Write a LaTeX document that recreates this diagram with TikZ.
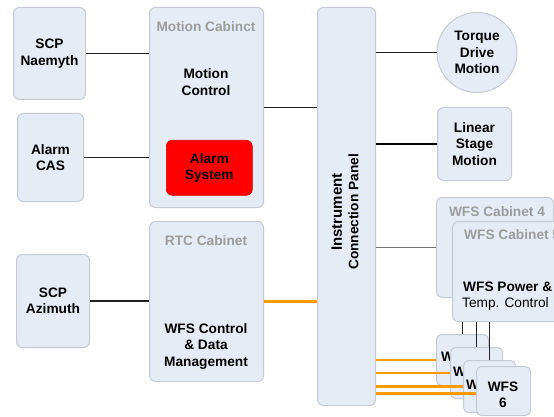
\documentclass[tikz,border=0pt]{standalone}
\usepackage{fontspec}
\setmainfont{Liberation Sans}
\definecolor{boxfill}{HTML}{E6ECF6}
\definecolor{boxedge}{HTML}{C6CBD3}
\definecolor{titlegray}{HTML}{9C9C9C}
\definecolor{alarmred}{HTML}{FF0000}
\definecolor{wireorange}{HTML}{FF9A00}
\definecolor{wiredark}{HTML}{222222}
\tikzset{
  unit/.style={draw=boxedge, fill=boxfill, line width=1pt, rounded corners=6pt,
    inner sep=0pt, anchor=north west, align=center,
    font=\fontsize{13.7}{16.5}\selectfont\bfseries},
  small/.style={unit, rounded corners=5pt},
  lbl/.style={inner sep=0pt, align=center, font=\fontsize{13.7}{16.5}\selectfont\bfseries},
  ttl/.style={lbl, text=titlegray},
  wire/.style={draw=wiredark, line width=1.1pt},
  heavywire/.style={draw=black, line width=2pt},
  greywire/.style={draw=black!55, line width=1.1pt},
  datawire/.style={draw=wireorange, line width=2.3pt},
}
\begin{document}
\begin{tikzpicture}[x=1pt, y=-1pt]
\clip (0,0) rectangle (554,417);
\fill[white] (0,0) rectangle (554,417);

% left-hand units
\node[unit, minimum width=72pt, minimum height=92pt] (naemyth) at (13,7) {SCP\\Naemyth};
\node[unit, minimum width=66pt, minimum height=88pt] (cas) at (17,113) {Alarm\\CAS};
\node[unit, minimum width=73pt, minimum height=93pt] (azimuth) at (16,254) {SCP\\Azimuth};

% motion cabinet
\node[unit, minimum width=114pt, minimum height=200pt] (motioncab) at (149,7) {};
\node[ttl] at (206,27) {Motion Cabinct};
\node[lbl] at (206,82) {Motion\\Control};
\node[unit, fill=alarmred, draw=alarmred!85!black, line width=0.6pt,
  minimum width=86pt, minimum height=55pt] (alarm) at (166,140) {Alarm\\System};

% RTC cabinet
\node[unit, minimum width=114pt, minimum height=160pt] (rtc) at (149,221) {};
\node[ttl] at (206,241) {RTC Cabinet};
\node[lbl] at (206,346) {WFS Control\\\& Data\\Management};

% instrument connection panel
\node[unit, minimum width=58pt, minimum height=398pt] (panel) at (317,7) {};
\node[lbl, rotate=90] at (345,212)
  {{\fontsize{15}{16.5}\selectfont Instrument}\\Connection Panel};

% motion hardware
\node[circle, draw=boxedge, fill=boxfill, line width=1pt, minimum size=80pt,
  inner sep=0pt, align=center, font=\fontsize{13.7}{16.5}\selectfont\bfseries]
  (torque) at (477,52.5) {Torque\\Drive\\Motion};
\node[unit, minimum width=74pt, minimum height=73pt] (linear) at (437,107) {Linear\\Stage\\Motion};

% WFS cabinets
\node[unit, minimum width=117pt, minimum height=100pt] (cabfour) at (436,197) {};
\node[ttl] at (497,212) {WFS Cabinet 4};
\node[unit, minimum width=116pt, minimum height=100pt] (cabfive) at (452,221) {};
\node[ttl, anchor=west] at (464,235) {WFS Cabinet 5};
\node[lbl, anchor=west] at (463,287) {WFS Power \&};
\node[lbl, anchor=west, font=\fontsize{13.7}{16.5}\selectfont] at (462,304) {Temp. Control};

% wavefront sensor units, stacked
\node[small, minimum width=52pt, minimum height=51pt] (wa) at (436,334) {};
\node[lbl, anchor=west] at (441,357) {WFS};
\node[small, minimum width=52pt, minimum height=51pt] (wb) at (450,347) {};
\node[lbl, anchor=west] at (453,372) {WFS};
\node[small, minimum width=52pt, minimum height=52pt] (wc) at (463,360) {};
\node[lbl, anchor=west] at (466,385) {WFS};
\node[small, minimum width=54pt, minimum height=49pt] (wd) at (476,366) {};
\node[lbl] at (503,395) {WFS\\6};

% connectors
\draw[wire] (naemyth.east) -- (motioncab.west |- naemyth.east);
\draw[wire] (cas.east) -- (motioncab.west |- cas.east);
\draw[wire] (azimuth.east) -- (rtc.west |- azimuth.east);
\draw[wire] (motioncab.east) -- (panel.west |- motioncab.east);
\draw[wire] (panel.east |- torque.west) -- (torque.west);
\draw[heavywire] (panel.east |- linear.west) -- (linear.west);
\draw[greywire] (panel.east |- cabfour.west) -- (cabfour.west);
\draw[datawire] (rtc.east) -- (panel.west |- rtc.east);
\draw[datawire] (panel.east |- wa.west) -- (wa.west);
\draw[datawire] (panel.east |- wb.west) -- (wb.west);
\draw[datawire] (panel.east |- wc.west) -- (wc.west);
\draw[datawire] ([yshift=-2.5pt]panel.east |- wd.west) -- ([yshift=-2.5pt]wd.west);
\draw[wire] (wa.north |- cabfive.south) -- (wa.north);
\draw[wire] (wb.north |- cabfive.south) -- (wb.north);
\draw[wire] (wc.north |- cabfive.south) -- (wc.north);
\end{tikzpicture}
\end{document}
